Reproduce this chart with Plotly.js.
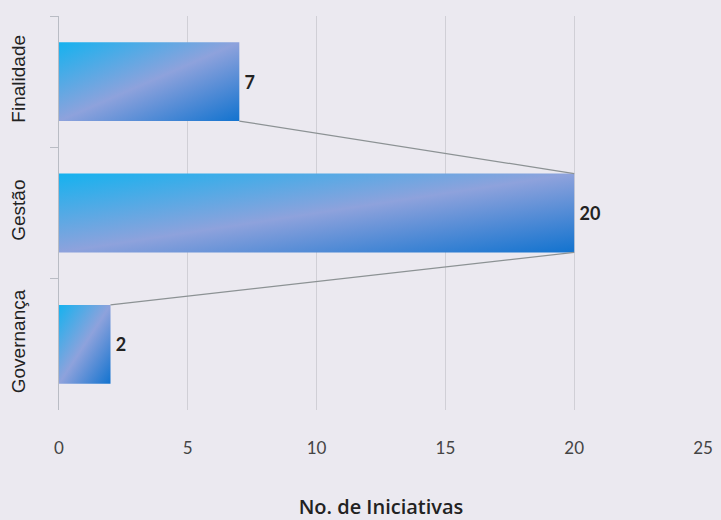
<!DOCTYPE html>
<html>
<head>
<meta charset="utf-8">
<script src="https://cdn.plot.ly/plotly-3.0.1.min.js"></script>
<style>
html,body{margin:0;padding:0;background:#ebe9f0;}
#chart{width:721px;height:520px;}
</style>
</head>
<body>
<div id="chart"></div>
<script>
const categories = ['Finalidade', 'Gestão', 'Governança'];
const values = [7, 20, 2];
const xTicks = [0, 5, 10, 15, 20, 25];
const xTitle = 'No. de Iniciativas';

const barWidth = 0.6;
const half = barWidth / 2;

// series lines joining bar ends (bottom of one to top of the next)
const shapes = [];
for (let i = 0; i < values.length - 1; i++) {
  shapes.push({
    type: 'line', xref: 'x', yref: 'y',
    x0: values[i], y0: i + half,
    x1: values[i + 1], y1: i + 1 - half,
    line: {color: '#8c9294', width: 1.2}
  });
}

const trace = {
  type: 'bar',
  orientation: 'h',
  y: categories,
  x: values,
  width: barWidth,
  marker: {color: '#5a9ee0', line: {width: 0}},
  text: values.map(function(v){ return '\u2009' + v; }),
  textposition: 'outside',
  cliponaxis: false,
  textfont: {family: 'Lato, Open Sans, sans-serif', size: 18, color: '#222', weight: 700},
  hoverinfo: 'skip'
};

const layout = {
  width: 721, height: 520,
  margin: {l: 59, r: 18, t: 16, b: 110},
  paper_bgcolor: '#ebe9f0',
  plot_bgcolor: '#ebe9f0',
  showlegend: false,
  bargap: 0.4,
  shapes: shapes,
  xaxis: {
    range: [0, 25],
    tickvals: xTicks,
    ticktext: xTicks.map(String),
    showgrid: true,
    gridcolor: '#d0cfd6',
    gridwidth: 1,
    zeroline: false,
    showline: false,
    ticks: '',
    ticklabelstandoff: 26,
    tickfont: {family: 'Lato, Open Sans, sans-serif', size: 17, color: '#444'},
    title: {text: xTitle, standoff: 44, font: {family: 'Open Sans, Lato, sans-serif', size: 20, color: '#222', weight: 600}},
    fixedrange: true
  },
  yaxis: {
    type: 'category',
    autorange: 'reversed',
    tickson: 'boundaries',
    ticks: 'outside',
    ticklen: 8,
    tickcolor: '#b9bcc4',
    showline: true,
    linecolor: '#b9bcc4',
    linewidth: 1,
    showgrid: false,
    tickangle: -90,
    ticklabelstandoff: 25,
    tickfont: {family: 'Liberation Sans, Arial, sans-serif', size: 19, color: '#222'},
    fixedrange: true
  }
};

Plotly.newPlot('chart', [trace], layout, {staticPlot: true, displayModeBar: false}).then(function(gd){
  const svg = gd.querySelector('svg.main-svg');
  const ns = 'http://www.w3.org/2000/svg';
  let defs = svg.querySelector('defs');
  if (!defs) { defs = document.createElementNS(ns, 'defs'); svg.insertBefore(defs, svg.firstChild); }
  const grad = document.createElementNS(ns, 'linearGradient');
  grad.setAttribute('id', 'barGrad');
  grad.setAttribute('x1', '0'); grad.setAttribute('y1', '0');
  grad.setAttribute('x2', '1'); grad.setAttribute('y2', '1');
  [['0', '#15b2ef'], ['0.5', '#8ea2dc'], ['1', '#1273cf']].forEach(function(s){
    const st = document.createElementNS(ns, 'stop');
    st.setAttribute('offset', s[0]);
    st.setAttribute('stop-color', s[1]);
    grad.appendChild(st);
  });
  defs.appendChild(grad);
  gd.querySelectorAll('.bars .point path').forEach(function(p){
    p.style.fill = 'url(#barGrad)';
  });
});
</script>
</body>
</html>
